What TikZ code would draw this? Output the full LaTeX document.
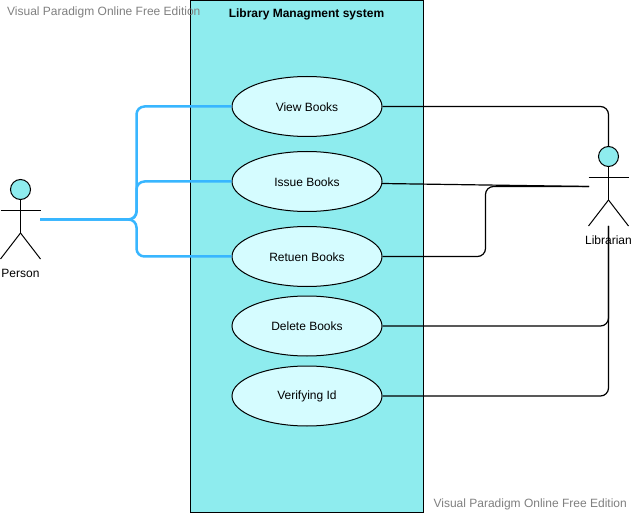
\documentclass[tikz,border=0pt]{standalone}
\usepackage{fontspec}
\setmainfont{Liberation Sans}
\usetikzlibrary{shapes.geometric}
\definecolor{sysfill}{HTML}{8EECEE}
\definecolor{casefill}{HTML}{D5FCFF}
\definecolor{assocblue}{HTML}{38B6FF}
\tikzstyle{usecase} = [draw,ellipse,fill=casefill,line width=1pt,minimum width=150pt,minimum height=60pt,inner sep=0pt,font=\fontsize{12}{14}\selectfont]
\tikzstyle{lowcase} = [usecase,text height=10.6pt,text depth=0pt]
\tikzstyle{head} = [draw,circle,fill=sysfill,line width=1pt,minimum size=20pt,inner sep=0pt]
\tikzstyle{word} = [inner sep=0pt,font=\fontsize{12}{14}\selectfont]
\tikzstyle{stamp} = [inner sep=0pt,text=gray,font=\fontsize{12}{14}\selectfont]
\tikzstyle{stick} = [line width=1pt,black]
\tikzstyle{blueline} = [line width=2.5pt,assocblue,rounded corners=8pt]
\tikzstyle{blackline} = [line width=1.2pt,black,rounded corners=8pt]

\begin{document}
\begin{tikzpicture}[x=1pt,y=-1pt]
        \useasboundingbox (0,0) rectangle (632,513);
        \fill[white] (0,0) rectangle (632,513);
        \node (sys) [draw,fill=sysfill,line width=1pt,minimum width=233pt,minimum height=512pt,inner sep=0pt] at (307,256.5) {};
        \node (title) [word] at (306.5,14.5) {\bfseries Library Managment system};

        % Use cases
        \node (view) [lowcase] at (307,106.5) {View Books};
        \node (issue) [lowcase] at (307,181.5) {Issue Books};
        \node (retuen) [lowcase] at (307,256.5) {Retuen Books};
        \node (delete) [usecase] at (307,326) {Delete Books};
        \node (verify) [usecase] at (307,396) {Verifying Id};

        % Person
        \node (phead) [head] at (20.5,189.5) {};
        \coordinate (pfork) at (20.5,233);
        \coordinate (parml) at (0.5,211);
        \coordinate (parmr) at (40.5,211);
        \coordinate (plegl) at (0.5,259);
        \coordinate (plegr) at (40.5,259);
        \coordinate (pout) at (40,219.5);
        \coordinate (ptrunk) at (136.5,219.5);
        \node (pname) [word] at (20.5,273) {Person};
        \draw[stick] (phead) -- (pfork);
        \draw[stick] (parml) -- (parmr);
        \draw[stick] (plegl) -- (pfork);
        \draw[stick] (pfork) -- (plegr);

        % Librarian
        \node (lhead) [head] at (608.5,156.5) {};
        \coordinate (lfork) at (608.5,200);
        \coordinate (larml) at (588.5,178);
        \coordinate (larmr) at (628.5,178);
        \coordinate (llegl) at (588.5,226);
        \coordinate (llegr) at (628.5,226);
        \coordinate (lin) at (589,186.5);
        \coordinate (lfoot) at (608.5,226);
        \coordinate (lturn) at (485.5,186.5);
        \coordinate (issueout) at (382,183.5);
        \node (lname) [word] at (608.5,240) {Librarian};
        \draw[stick] (lhead) -- (lfork);
        \draw[stick] (larml) -- (larmr);
        \draw[stick] (llegl) -- (lfork);
        \draw[stick] (lfork) -- (llegr);

        % Edges - blue
        \draw[blueline] (pout) -- (ptrunk) |- (view);
        \draw[blueline] (pout) -- (ptrunk) |- (issue);
        \draw[blueline] (pout) -- (ptrunk) |- (retuen);

        % Edges - black
        \draw[blackline] (view) -| (lhead);
        \draw[blackline] (issueout) -- (lin);
        \draw[blackline] (retuen) -| (lturn) -- (lin);
        \draw[blackline] (delete) -| (lfoot);
        \draw[blackline] (verify) -| (lfoot);

        % Watermarks
        \node (markl) [stamp,anchor=west] at (7,12) {Visual Paradigm Online Free Edition};
        \node (markr) [stamp,anchor=east] at (627,504) {Visual Paradigm Online Free Edition};
      \end{tikzpicture}
\end{document}
